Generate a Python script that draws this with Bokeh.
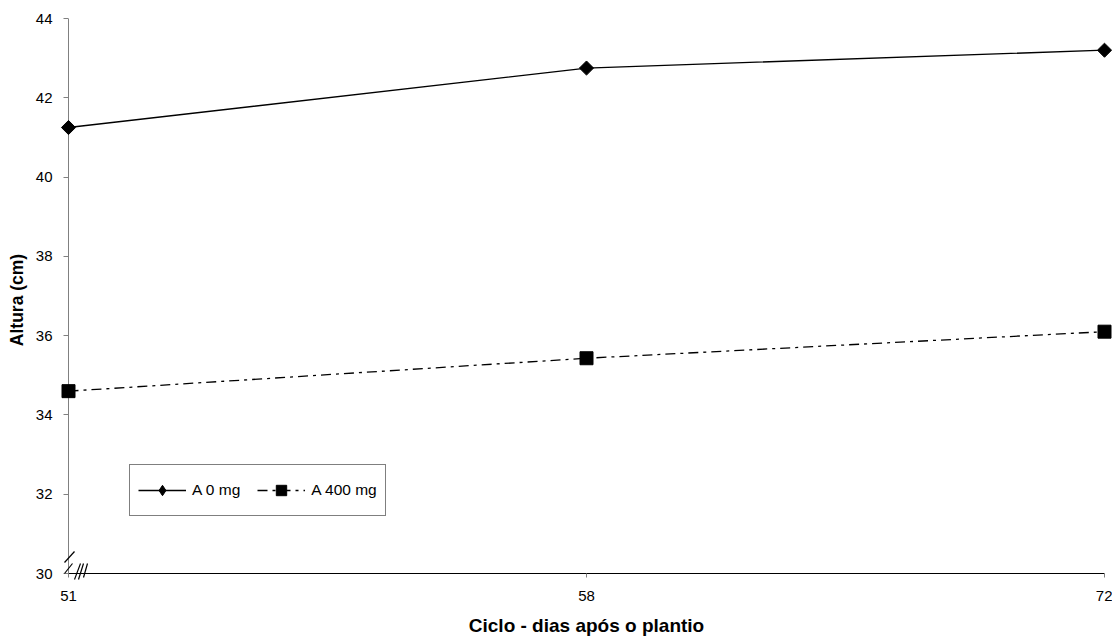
from bokeh.plotting import figure
from bokeh.models import (ColumnDataSource, FixedTicker, Legend, LegendItem,
                          Arrow, Range1d)
from bokeh.embed import file_html
from bokeh.resources import INLINE
import math

# Plant height (cm) by cycle (days after planting)
ciclo = ["51", "58", "72"]
a_0mg = [41.25, 42.75, 43.2]
a_400mg = [34.6, 35.43, 36.1]
y_ticks = [30, 32, 34, 36, 38, 40, 42, 44]
y_min, y_max = 30, 44

xpos = list(range(len(ciclo)))
x_min, x_max = 0, len(ciclo) - 1

FONT = "Liberation Sans"

# frame geometry: the frame reaches a few pixels past the data area on the
# left, right and bottom, so markers and break marks on the axes stay whole
W, H = 1112, 638
data_left, data_right, data_top, data_bottom = 68, 1104, 18, 573
inset_l, inset_r, inset_b = 8, 8, 8
px_x = (data_right - data_left) / (x_max - x_min)
px_y = (data_bottom - data_top) / (y_max - y_min)

p = figure(width=W, height=H, output_backend="svg", toolbar_location=None,
           x_range=Range1d(x_min - inset_l / px_x, x_max + inset_r / px_x),
           y_range=Range1d(y_min - inset_b / px_y, y_max),
           min_border_left=data_left - inset_l,
           min_border_right=W - data_right - inset_r,
           min_border_top=data_top,
           min_border_bottom=H - data_bottom - inset_b)
p.outline_line_color = None
p.grid.visible = False
p.background_fill_color = "white"
p.border_fill_color = "white"

# axis lines at the data origin
p.segment(x0=[x_min], y0=[y_min], x1=[x_min], y1=[y_max],
          line_color="#808080", line_width=1)
p.segment(x0=[x_min], y0=[y_min], x1=[x_max], y1=[y_min],
          line_color="black", line_width=1)

src0 = ColumnDataSource(dict(x=xpos, y=a_0mg))
src4 = ColumnDataSource(dict(x=xpos, y=a_400mg))

l0 = p.line("x", "y", source=src0, line_color="black", line_width=1.3)
p.scatter("x", "y", source=src0, marker="square", size=10,
          angle=math.pi / 4, fill_color="black", line_color="black")
l4 = p.line("x", "y", source=src4, line_color="black", line_width=1.3,
            line_dash="10 5 3 5")
m4 = p.scatter("x", "y", source=src4, marker="square", size=13,
               fill_color="black", line_color="black")
# diamond swatch for the legend entry (no visible point on the plot)
m0_key = p.scatter(x=[float("nan")], y=[float("nan")], marker="diamond",
                   fill_color="black", line_color="black")

# axes: lines hidden, ticks shifted onto the data origin
xa = p.xaxis[0]
xa.ticker = FixedTicker(ticks=xpos)
xa.major_label_overrides = {i: c for i, c in enumerate(ciclo)}
xa.minor_tick_line_color = None
xa.major_tick_in = inset_b
xa.major_tick_out = -(inset_b - 4)
xa.major_tick_line_color = "#808080"
xa.axis_line_color = None
xa.axis_label = "Ciclo - dias após o plantio"
xa.major_label_standoff = 9

ya = p.yaxis[0]
ya.ticker = FixedTicker(ticks=y_ticks)
ya.minor_tick_line_color = None
ya.major_tick_in = inset_l
ya.major_tick_out = -(inset_l - 5)
ya.major_tick_line_color = "#808080"
ya.axis_line_color = None
ya.axis_label = "Altura (cm)"
ya.major_label_standoff = 8

for ax in (xa, ya):
    ax.major_label_text_font = FONT
    ax.major_label_text_font_size = "15px"
    ax.major_label_text_color = "black"
    ax.axis_label_text_font = FONT
    ax.axis_label_text_font_style = "bold"
    ax.axis_label_text_color = "black"
xa.axis_label_text_font_size = "19px"
ya.axis_label_text_font_size = "17.5px"
xa.axis_label_standoff = 11
ya.axis_label_standoff = 6


# axis break marks, given as pixel offsets from the origin
def to_data(dx, dy):
    return x_min + dx / px_x, y_min + dy / px_y


breaks = [
    ((-4, 11), (6, 22)),
    ((-4, 0), (4, 10)),
    ((6, -6), (12, 10)),
    ((10, -6), (15, 10)),
    ((15, -4), (19, 10)),
]
for a, b in breaks:
    x0, y0 = to_data(*a)
    x1, y1 = to_data(*b)
    p.add_layout(Arrow(end=None, x_start=x0, y_start=y0, x_end=x1, y_end=y1,
                       line_color="black", line_width=1.2))

legend = Legend(items=[LegendItem(label="A 0 mg", renderers=[l0, m0_key]),
                       LegendItem(label="A 400 mg", renderers=[l4, m4])],
                orientation="horizontal",
                location=(61 + inset_l, 57 + inset_b),
                glyph_width=48, glyph_height=26, label_height=34,
                label_standoff=6, spacing=17, padding=8, margin=0,
                border_line_color="black", border_line_width=1,
                label_text_font=FONT, label_text_font_size="15.5px",
                label_text_color="black", background_fill_alpha=1)
p.add_layout(legend, "center")

open("out.html", "w").write(file_html(p, INLINE))
